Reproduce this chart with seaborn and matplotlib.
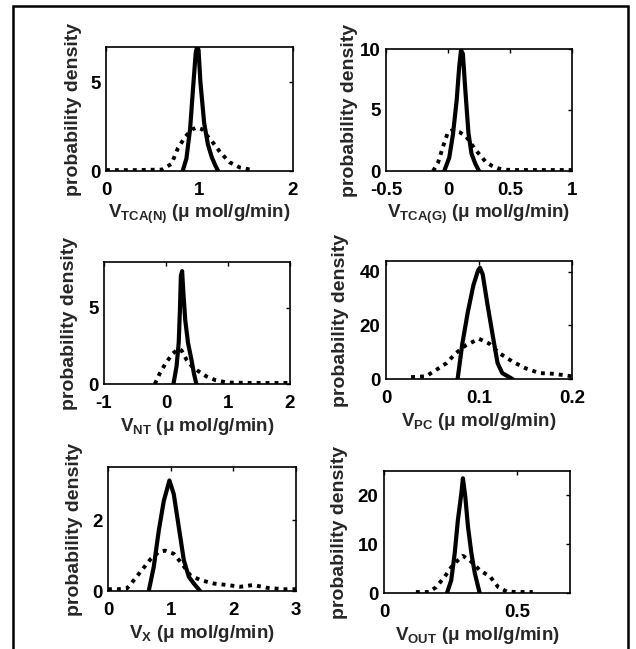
import matplotlib
matplotlib.use("Agg")
import matplotlib.pyplot as plt
import seaborn as sns
from matplotlib.patches import Rectangle

# Values: solid = narrow distribution, dotted = wide one
tca_n_solid_x = [0.82, 0.86, 0.90, 0.93, 0.96, 0.975, 0.99, 1.01, 1.05, 1.09, 1.13, 1.17, 1.20]
tca_n_solid_y = [0, 0.7, 2.4, 4.6, 6.7, 7.0, 6.8, 5.0, 2.7, 1.5, 0.8, 0.3, 0]
tca_n_dot_x = [0.0, 0.3, 0.6, 0.70, 0.77, 0.85, 0.92, 0.97, 1.03, 1.08, 1.13, 1.22, 1.32, 1.43, 1.57]
tca_n_dot_y = [0.05, 0.05, 0.08, 0.4, 1.3, 1.95, 2.35, 2.45, 2.35, 2.0, 1.7, 1.07, 0.5, 0.2, 0.05]

tca_g_solid_x = [-0.03, 0.01, 0.04, 0.07, 0.09, 0.105, 0.12, 0.14, 0.165, 0.19, 0.22, 0.25]
tca_g_solid_y = [0, 1.1, 3.0, 5.8, 8.5, 9.9, 9.6, 6.6, 3.1, 1.4, 0.6, 0]
tca_g_dot_x = [-0.12, -0.08, -0.04, 0.0, 0.04, 0.09, 0.14, 0.17, 0.21, 0.25, 0.30, 0.35, 0.41, 0.47, 0.55, 0.7, 0.85, 1.0]
tca_g_dot_y = [0, 0.7, 2.0, 3.2, 3.35, 3.2, 2.9, 2.5, 1.9, 1.4, 0.8, 0.45, 0.2, 0.1, 0.08, 0.08, 0.08, 0.08]

nt_solid_x = [0.12, 0.17, 0.205, 0.225, 0.24, 0.26, 0.28, 0.31, 0.355, 0.41, 0.45, 0.49]
nt_solid_y = [0, 1.15, 2.7, 4.9, 7.1, 7.4, 6.0, 4.2, 2.7, 1.6, 0.7, 0]
nt_dot_x = [-0.18, -0.1, 0.0, 0.11, 0.2, 0.25, 0.33, 0.42, 0.5, 0.65, 0.8, 0.98, 1.3, 1.6, 2.0]
nt_dot_y = [0, 0.7, 1.4, 2.0, 2.3, 2.2, 1.6, 1.15, 0.9, 0.5, 0.25, 0.1, 0.07, 0.07, 0.07]

pc_solid_x = [0.077, 0.082, 0.088, 0.094, 0.099, 0.101, 0.104, 0.109, 0.115, 0.120, 0.125, 0.131, 0.136]
pc_solid_y = [0, 13, 25, 35, 40.5, 41.5, 39, 28, 15.7, 5.9, 2.2, 1.0, 0]
pc_dot_x = [0.027, 0.043, 0.054, 0.065, 0.075, 0.086, 0.10, 0.111, 0.122, 0.136, 0.15, 0.165, 0.178, 0.19, 0.2]
pc_dot_y = [0.7, 1.0, 3.4, 5.9, 9.6, 12.6, 15.0, 13.2, 9.6, 6.5, 4.0, 2.2, 2.0, 1.5, 1.0]

x_solid_x = [0.65, 0.73, 0.81, 0.89, 0.98, 1.05, 1.13, 1.21, 1.29, 1.37, 1.47]
x_solid_y = [0, 0.68, 1.7, 2.54, 3.12, 2.73, 1.8, 0.87, 0.4, 0.21, 0]
x_dot_x = [0.0, 0.15, 0.30, 0.41, 0.54, 0.68, 0.81, 0.91, 1.05, 1.18, 1.31, 1.47, 1.69, 1.9, 2.11, 2.32, 2.54, 2.8, 3.0]
x_dot_y = [0.05, 0.05, 0.07, 0.3, 0.59, 0.9, 1.1, 1.14, 1.05, 0.77, 0.45, 0.31, 0.21, 0.17, 0.12, 0.17, 0.09, 0.05, 0.05]

out_solid_x = [0.237, 0.253, 0.266, 0.278, 0.291, 0.297, 0.306, 0.316, 0.329, 0.342, 0.36]
out_solid_y = [0, 2.6, 8.1, 14.9, 20.4, 23.5, 19.7, 13.6, 8.1, 4.0, 0]
out_dot_x = [0.12, 0.17, 0.196, 0.228, 0.253, 0.278, 0.297, 0.323, 0.36, 0.40, 0.43, 0.462, 0.5, 0.56]
out_dot_y = [0.2, 0.2, 1.2, 3.3, 5.3, 6.7, 7.6, 6.7, 4.7, 3.3, 1.2, 0.3, 0.2, 0.2]

labels = ["TCA(N)", "TCA(G)", "NT", "PC", "X", "OUT"]
xlims = [(0, 2), (-0.5, 1), (-1, 2), (0, 0.2), (0, 3), (0, 0.7)]
ylims = [(0, 7), (0, 10), (0, 8), (0, 44), (0, 3.5), (0, 25)]
xticks = [[0, 1, 2], [-0.5, 0, 0.5, 1], [-1, 0, 1, 2], [0, 0.1, 0.2], [0, 1, 2, 3], [0, 0.5]]
yticks = [[0, 5], [0, 5, 10], [0, 5], [0, 20, 40], [0, 2], [0, 10, 20]]

curves = [
    (tca_n_solid_x, tca_n_solid_y, tca_n_dot_x, tca_n_dot_y),
    (tca_g_solid_x, tca_g_solid_y, tca_g_dot_x, tca_g_dot_y),
    (nt_solid_x, nt_solid_y, nt_dot_x, nt_dot_y),
    (pc_solid_x, pc_solid_y, pc_dot_x, pc_dot_y),
    (x_solid_x, x_solid_y, x_dot_x, x_dot_y),
    (out_solid_x, out_solid_y, out_dot_x, out_dot_y),
]

sns.set_style("white")
plt.rcParams['font.family'] = ['Liberation Sans', 'DejaVu Sans']
plt.rcParams['font.weight'] = 'bold'
plt.rcParams['mathtext.fontset'] = 'custom'
plt.rcParams['mathtext.bf'] = 'Liberation Sans:bold'
plt.rcParams['mathtext.rm'] = 'Liberation Sans:bold'

W, H = 636, 649
fig = plt.figure(figsize=(W / 100, H / 100), dpi=100)

# axes boxes in pixels: left, right, top, bottom ; ylabel right-edge offset
boxes = [(106, 293, 47, 171, -24), (386, 572, 49, 171, -28),
         (104, 290, 262, 384, -26), (386, 572, 261, 379, -37),
         (108, 296, 467, 591, -25), (384, 570, 471, 593, -36)]

for i, (l, r, t, b, yoff) in enumerate(boxes):
    ax = fig.add_axes([l / W, 1 - b / H, (r - l) / W, (b - t) / H])
    sx, sy, dx, dy = curves[i]
    sns.lineplot(x=dx, y=dy, ax=ax, color="black", linewidth=2.8,
                 linestyle=(0, (1, 1.3)), sort=False, estimator=None)
    sns.lineplot(x=sx, y=sy, ax=ax, color="black", linewidth=3.0,
                 sort=False, estimator=None)
    ax.set_xlim(*xlims[i])
    ax.set_ylim(*ylims[i])
    ax.set_xticks(xticks[i])
    ax.set_yticks(yticks[i])
    ax.set_xticklabels([f"{v:g}" for v in xticks[i]], fontsize=13.5, fontweight="bold")
    ax.set_yticklabels([f"{v:g}" for v in yticks[i]], fontsize=13.5, fontweight="bold")
    ax.tick_params(direction="in", top=True, right=True, length=3, width=1,
                   colors="black")
    ax.tick_params(axis="x", pad=8)
    ax.tick_params(axis="y", pad=4)
    for s in ax.spines.values():
        s.set_linewidth(1.2)
        s.set_color("black")
    ax.set_xlabel(r"$\mathbf{V_{%s}}$ (μ mol/g/min)" % labels[i], fontsize=13.5,
                  fontweight="bold", labelpad=3)
    ax.set_ylabel("probability density", fontsize=14, fontweight="bold")
    ax.yaxis.set_label_coords(yoff / (r - l), 0.5)

# outer frame (bottom edge lies below the cropped image)
fig.patches.append(Rectangle((13 / W, -0.05), (628 - 13) / W, 1.05 - 6 / H,
                             transform=fig.transFigure, fill=False,
                             edgecolor="black", linewidth=1.8))

fig.savefig("out.png", dpi=100, facecolor="white")
